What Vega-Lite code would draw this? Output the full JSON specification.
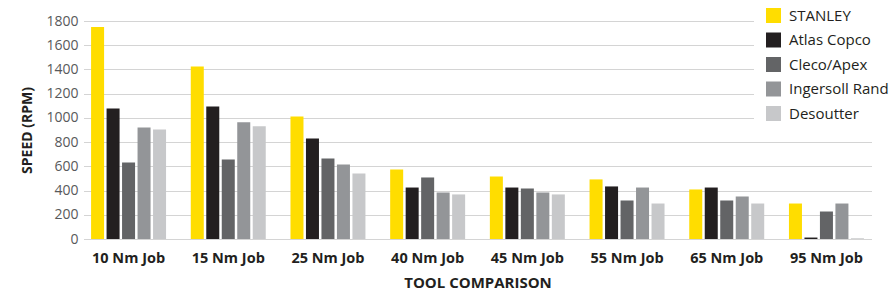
{
  "$schema": "https://vega.github.io/schema/vega-lite/v6.json",
  "autosize": {"type": "none"},
  "padding": {"left": 84, "top": 21, "right": 25, "bottom": 60},
  "width": 787,
  "height": 218,
  "config": {"font": "Open Sans", "view": {"stroke": null}},
  "data": {"values": [
    {"job": "10 Nm Job", "brand": "STANLEY", "rpm": 1750},
    {"job": "10 Nm Job", "brand": "Atlas Copco", "rpm": 1078},
    {"job": "10 Nm Job", "brand": "Cleco/Apex", "rpm": 632},
    {"job": "10 Nm Job", "brand": "Ingersoll Rand", "rpm": 921},
    {"job": "10 Nm Job", "brand": "Desoutter", "rpm": 905},
    {"job": "15 Nm Job", "brand": "STANLEY", "rpm": 1425},
    {"job": "15 Nm Job", "brand": "Atlas Copco", "rpm": 1095},
    {"job": "15 Nm Job", "brand": "Cleco/Apex", "rpm": 657},
    {"job": "15 Nm Job", "brand": "Ingersoll Rand", "rpm": 963},
    {"job": "15 Nm Job", "brand": "Desoutter", "rpm": 930},
    {"job": "25 Nm Job", "brand": "STANLEY", "rpm": 1012},
    {"job": "25 Nm Job", "brand": "Atlas Copco", "rpm": 830},
    {"job": "25 Nm Job", "brand": "Cleco/Apex", "rpm": 665},
    {"job": "25 Nm Job", "brand": "Ingersoll Rand", "rpm": 616},
    {"job": "25 Nm Job", "brand": "Desoutter", "rpm": 541},
    {"job": "40 Nm Job", "brand": "STANLEY", "rpm": 574},
    {"job": "40 Nm Job", "brand": "Atlas Copco", "rpm": 425},
    {"job": "40 Nm Job", "brand": "Cleco/Apex", "rpm": 508},
    {"job": "40 Nm Job", "brand": "Ingersoll Rand", "rpm": 384},
    {"job": "40 Nm Job", "brand": "Desoutter", "rpm": 368},
    {"job": "45 Nm Job", "brand": "STANLEY", "rpm": 516},
    {"job": "45 Nm Job", "brand": "Atlas Copco", "rpm": 425},
    {"job": "45 Nm Job", "brand": "Cleco/Apex", "rpm": 417},
    {"job": "45 Nm Job", "brand": "Ingersoll Rand", "rpm": 384},
    {"job": "45 Nm Job", "brand": "Desoutter", "rpm": 368},
    {"job": "55 Nm Job", "brand": "STANLEY", "rpm": 492},
    {"job": "55 Nm Job", "brand": "Atlas Copco", "rpm": 434},
    {"job": "55 Nm Job", "brand": "Cleco/Apex", "rpm": 318},
    {"job": "55 Nm Job", "brand": "Ingersoll Rand", "rpm": 425},
    {"job": "55 Nm Job", "brand": "Desoutter", "rpm": 293},
    {"job": "65 Nm Job", "brand": "STANLEY", "rpm": 409},
    {"job": "65 Nm Job", "brand": "Atlas Copco", "rpm": 425},
    {"job": "65 Nm Job", "brand": "Cleco/Apex", "rpm": 318},
    {"job": "65 Nm Job", "brand": "Ingersoll Rand", "rpm": 351},
    {"job": "65 Nm Job", "brand": "Desoutter", "rpm": 293},
    {"job": "95 Nm Job", "brand": "STANLEY", "rpm": 293},
    {"job": "95 Nm Job", "brand": "Atlas Copco", "rpm": 12},
    {"job": "95 Nm Job", "brand": "Cleco/Apex", "rpm": 227},
    {"job": "95 Nm Job", "brand": "Ingersoll Rand", "rpm": 293},
    {"job": "95 Nm Job", "brand": "Desoutter", "rpm": 6}
  ]},
  "mark": {"type": "bar"},
  "encoding": {
    "x": {
      "field": "job", "type": "nominal",
      "sort": ["10 Nm Job", "15 Nm Job", "25 Nm Job", "40 Nm Job", "45 Nm Job", "55 Nm Job", "65 Nm Job", "95 Nm Job"],
      "scale": {"paddingInner": 0.22, "paddingOuter": 0.057},
      "axis": {
        "title": "TOOL COMPARISON", "titleFontSize": 15, "titleFontWeight": "bold", "titleColor": "#231F20", "titlePadding": 11,
        "labelAngle": 0, "labelFontSize": 14.5, "labelFontWeight": "bold", "labelColor": "#231F20", "labelPadding": 12,
        "domain": false, "ticks": false
      }
    },
    "xOffset": {
      "field": "brand", "type": "nominal",
      "sort": ["STANLEY", "Atlas Copco", "Cleco/Apex", "Ingersoll Rand", "Desoutter"],
      "scale": {"paddingInner": 0.16, "paddingOuter": 0.09}
    },
    "y": {
      "field": "rpm", "type": "quantitative",
      "scale": {"domain": [0, 1800], "nice": false},
      "axis": {
        "title": "SPEED (RPM)", "titleFontSize": 14, "titleFontWeight": "bold", "titleColor": "#231F20", "titlePadding": 11,
        "values": [0, 200, 400, 600, 800, 1000, 1200, 1400, 1600, 1800], "format": "d",
        "labelFontSize": 14, "labelColor": "#58595B", "labelPadding": 6,
        "domain": false, "ticks": false,
        "grid": true, "gridDash": [1, 1], "gridColor": "#a8a8a8", "gridWidth": 1
      }
    },
    "color": {
      "field": "brand", "type": "nominal",
      "sort": ["STANLEY", "Atlas Copco", "Cleco/Apex", "Ingersoll Rand", "Desoutter"],
      "scale": {
        "domain": ["STANLEY", "Atlas Copco", "Cleco/Apex", "Ingersoll Rand", "Desoutter"],
        "range": ["#FFDD00", "#231F20", "#636466", "#939598", "#C7C8CA"]
      },
      "legend": {
        "title": null, "orient": "none", "legendX": 670, "legendY": -25,
        "padding": 12, "fillColor": "white",
        "symbolType": "square", "symbolSize": 225, "symbolStrokeWidth": 0, "symbolOpacity": 1,
        "labelFontSize": 15, "labelColor": "#231F20", "labelOffset": 8, "rowPadding": 8.5
      }
    }
  }
}
